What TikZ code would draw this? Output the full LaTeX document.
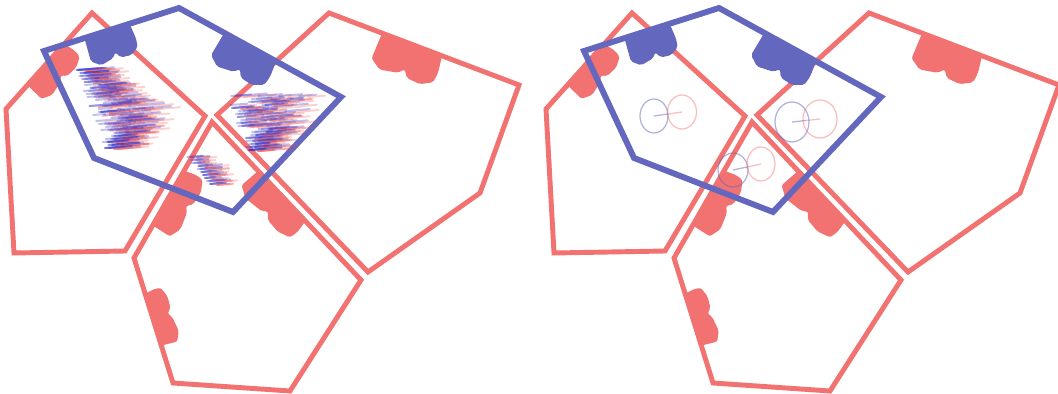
\documentclass[tikz,border=0pt]{standalone}
\usetikzlibrary{calc}

\definecolor{cellred}{RGB}{241,114,112}
\definecolor{zoneblue}{RGB}{100,103,190}
\definecolor{hatchblue}{RGB}{45,45,200}
\definecolor{hatchred}{RGB}{240,70,70}

% bump hanging from an edge: from, to, start, length, depth, colour
\newcommand{\cellbump}[6]{%
  \pgfmathanglebetweenpoints{\pgfpointanchor{#1}{center}}{\pgfpointanchor{#2}{center}}%
  \let\bumpangle\pgfmathresult
  \begin{scope}[shift={($(#1)!#3!(#2)$)}, rotate=\bumpangle]
    \fill[#6, rounded corners=1.5pt] (0,-2) -- (-1,0.78*#5) -- (0.16*#4,#5) -- (0.44*#4,0.9*#5)
      -- (0.52*#4,0.74*#5) -- (0.6*#4,0.95*#5) -- (0.82*#4,0.98*#5) -- (#4,0.8*#5)
      -- (1.02*#4,0.5*#5) -- (0.98*#4,-2) -- cycle;
  \end{scope}}

\begin{document}
\begin{tikzpicture}[x=0.025cm, y=-0.025cm,
    cell/.style={draw=cellred, line width=3.5pt},
    zone/.style={draw=zoneblue, line width=4.2pt},
    strokeb/.style={draw=hatchblue, line width=1.4pt, opacity=0.3, line cap=round},
    stroker/.style={draw=hatchred, line width=1.4pt, opacity=0.25, line cap=round},
    ringb/.style={draw=zoneblue, line width=0.9pt, opacity=0.5},
    ringr/.style={draw=cellred, line width=0.9pt, opacity=0.45}]

  \useasboundingbox (0,0) rectangle (1058,394);

  \foreach \off in {0,540}{
    % three cells
    \coordinate (a1) at (\off+92,13);
    \coordinate (a2) at (\off+205,116);
    \coordinate (a3) at (\off+125,251);
    \coordinate (a4) at (\off+14,253);
    \coordinate (a5) at (\off+6,109);
    \coordinate (c1) at (\off+329,13);
    \coordinate (c2) at (\off+519,85);
    \coordinate (c3) at (\off+480,193);
    \coordinate (c4) at (\off+368,272);
    \coordinate (c5) at (\off+217,115);
    \coordinate (b1) at (\off+212,122);
    \coordinate (b2) at (\off+361,280);
    \coordinate (b3) at (\off+290,391);
    \coordinate (b4) at (\off+173,383);
    \coordinate (b5) at (\off+134,258);
    \draw[cell] (a1) -- (a2) -- (a3) -- (a4) -- (a5) -- cycle;
    \draw[cell] (c1) -- (c2) -- (c3) -- (c4) -- (c5) -- cycle;
    \draw[cell] (b1) -- (b2) -- (b3) -- (b4) -- (b5) -- cycle;
    \cellbump{c1}{c2}{0.28}{65}{35}{cellred}
    \cellbump{a5}{a1}{0.25}{56}{25}{cellred}
    \cellbump{b5}{b1}{0.24}{64}{26}{cellred}
    \cellbump{b1}{b2}{0.31}{70}{28}{cellred}
    \cellbump{b4}{b5}{0.30}{55}{21}{cellred}

    % blue zone on top
    \coordinate (z1) at (\off+44,51);
    \coordinate (z2) at (\off+179,8);
    \coordinate (z3) at (\off+341,97);
    \coordinate (z4) at (\off+233,212);
    \coordinate (z5) at (\off+94,158);
    \draw[zone] (z1) -- (z2) -- (z3) -- (z4) -- (z5) -- cycle;
    \cellbump{z1}{z2}{0.30}{48}{31}{zoneblue}
    \cellbump{z2}{z3}{0.28}{60}{33}{zoneblue}
  }

  % left panel: strokes
  \pgfmathsetseed{11}
  \foreach \i in {0,...,26}{
    \pgfmathsetmacro\yy{70+3*\i}
    \pgfmathsetmacro\xl{76+1.1*\i}
    \pgfmathsetmacro\wd{5+42*sin(180*\i/26)}
    \foreach \k in {1,...,5}{
      \pgfmathsetmacro\xs{\xl+rnd*\wd}
      \pgfmathsetmacro\ln{12+rnd*24}
      \draw[strokeb] (\xs,\yy) -- ++(\ln,-0.08*\ln);
      \draw[stroker] (\xs+9,\yy+1) -- ++(\ln,-0.08*\ln);
    }
  }
  \foreach \i in {0,...,18}{
    \pgfmathsetmacro\yy{96+3*\i}
    \pgfmathsetmacro\xl{227+1.1*\i}
    \pgfmathsetmacro\wd{max(5,74-3.7*\i)}
    \foreach \k in {1,...,5}{
      \pgfmathsetmacro\xs{\xl+rnd*\wd}
      \pgfmathsetmacro\ln{12+rnd*22}
      \draw[strokeb] (\xs,\yy) -- ++(\ln,-0.08*\ln);
      \draw[stroker] (\xs+9,\yy+1) -- ++(\ln,-0.08*\ln);
    }
  }
  \foreach \i in {0,...,9}{
    \pgfmathsetmacro\yy{157+3*\i}
    \pgfmathsetmacro\xl{187+2.4*\i}
    \pgfmathsetmacro\wd{max(3,10-0.8*\i)}
    \foreach \k in {1,2,3}{
      \pgfmathsetmacro\xs{\xl+rnd*\wd}
      \pgfmathsetmacro\ln{9+rnd*14}
      \draw[strokeb] (\xs,\yy) -- ++(\ln,-0.08*\ln);
      \draw[stroker] (\xs+7,\yy+1) -- ++(\ln,-0.08*\ln);
    }
  }

  % right panel: ellipse pairs
  \foreach \bx/\by/\brx/\bry/\rx/\ry/\rrx/\rry in
      {654/116/14/17/682/112/14.5/17, 792/122/17/20/820/119/17/19, 733/170/15/17/761/164/14/17}{
    \coordinate (eb) at (\bx,\by);
    \coordinate (er) at (\rx,\ry);
    \draw[ringb] (eb) ellipse [x radius=\brx, y radius=\bry];
    \draw[ringr] (er) ellipse [x radius=\rrx, y radius=\rry];
    \draw[ringb] (eb) -- ($(eb)!0.5!(er)$);
    \draw[ringr] ($(eb)!0.5!(er)$) -- (er);
  }
\end{tikzpicture}
\end{document}
